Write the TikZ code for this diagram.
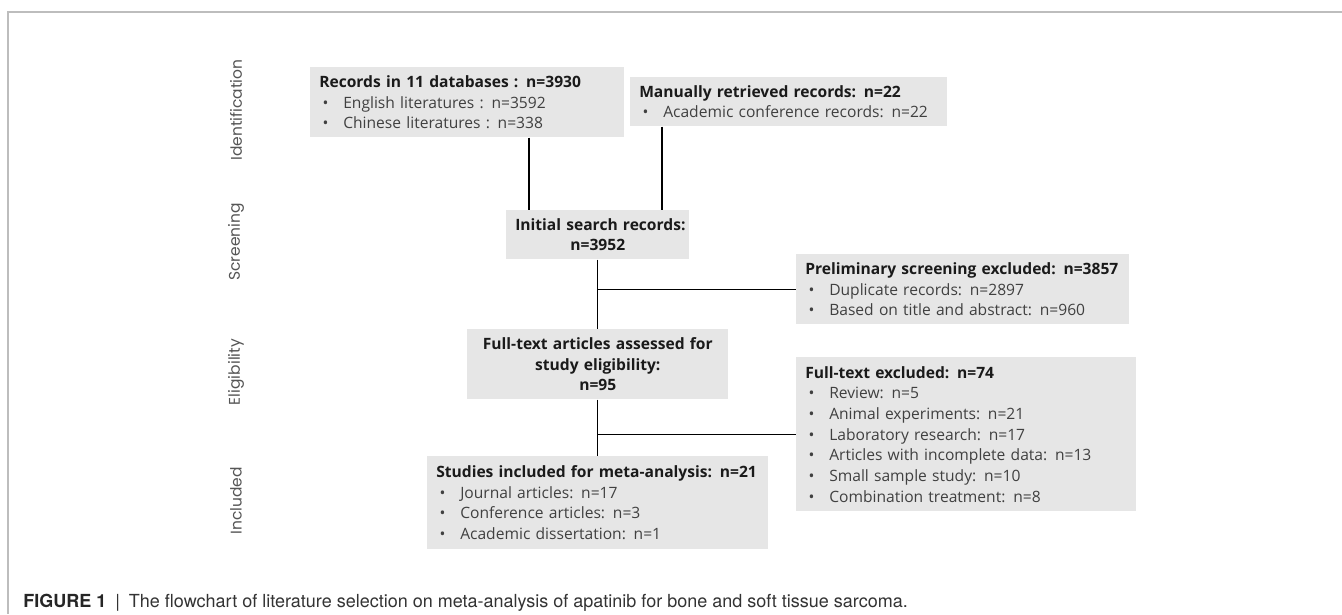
\documentclass[tikz,border=0pt]{standalone}
\usepackage{fontspec}
\setmainfont{Open Sans}
\newfontfamily\phasefont{Poppins}
\newfontfamily\capfont{TeX Gyre Heros}
\usepackage{tikz}
\usetikzlibrary{positioning}
\definecolor{boxgray}{HTML}{E6E6E6}
\definecolor{titleink}{HTML}{1A1A1A}
\definecolor{itemink}{HTML}{404040}
\definecolor{phaseink}{HTML}{555555}
\definecolor{capink}{HTML}{333333}
\definecolor{framegray}{HTML}{BDBDBD}
\newcommand{\bitem}[1]{\\\hspace*{2.5pt}\makebox[15.5pt][l]{\textbullet}\mbox{#1}}
\newcommand{\hd}[1]{\mbox{\bfseries\color{titleink}#1}}

\begin{document}
\begin{tikzpicture}[x=0.75pt,y=-0.75pt,
    stage/.style={fill=boxgray,anchor=north west,align=left,inner xsep=6.75pt,inner ysep=0pt,
      font=\fontsize{11.7}{15.5}\selectfont,text=itemink},
    midstage/.style={stage,align=center},
    phase/.style={rotate=90,font=\phasefont\fontsize{11.6}{14}\selectfont,text=phaseink},
    link/.style={black,line width=1pt}]
    \useasboundingbox (0,0) rectangle (1342,614);
    \draw [framegray,line width=1.1pt] (1342,12) -| (8,614);

    \node[phase] (pid) at (236,110) {Identification};
    \node[phase] (psc) at (236,242) {Screening};
    \node[phase] (pel) at (236,372) {Eligibility};
    \node[phase] (pin) at (236,501) {Included};

    \node[stage,text width=222pt,minimum height=52.5pt] (rec) at (310,67)
      {\hd{Records in 11 databases : n=3930}\bitem{English literatures : n=3592}\bitem{Chinese literatures : n=338}};
    \node[stage,text width=224.25pt,minimum height=36.75pt] (man) at (630,77)
      {\hd{Manually retrieved records: n=22}\bitem{Academic conference records: n=22}};
    \node[midstage,text width=123.75pt,minimum height=36.75pt] (init) at (506,210)
      {\hd{Initial search records:}\\\hd{n=3952}};
    \node[stage,text width=236.25pt,minimum height=52.5pt] (pre) at (796,254)
      {\hd{Preliminary screening excluded: n=3857}\bitem{Duplicate records: n=2897}\bitem{Based on title and abstract: n=960}};
    \node[midstage,text width=182.25pt,minimum height=52.5pt] (full) at (467,329)
      {\hd{Full-text articles assessed for}\\\hd{study eligibility:}\\\hd{n=95}};
    \node[stage,text width=241.5pt,minimum height=115.5pt] (ftx) at (796,357)
      {\hd{Full-text excluded: n=74}\bitem{Review: n=5}\bitem{Animal experiments: n=21}\bitem{Laboratory research: n=17}\bitem{Articles with incomplete data: n=13}\bitem{Small sample study: n=10}\bitem{Combination treatment: n=8}};
    \node[stage,text width=242.25pt,minimum height=69.75pt] (incl) at (427,456)
      {\hd{Studies included for meta-analysis: n=21}\bitem{Journal articles: n=17}\bitem{Conference articles: n=3}\bitem{Academic dissertation: n=1}};

    \coordinate (xa) at (529,0);
    \coordinate (xb) at (662,0);
    \draw [link] (rec.south -| xa) -- (init.north -| xa);
    \draw [link] (man.south -| xb) -- (init.north -| xb);
    \draw [link] (init.south) -- (full.north);
    \draw [link] (init.south |- pre.west) -- (pre.west);
    \draw [link] (full.south) -- (incl.north);
    \draw [link] (full.south |- ftx.west) -- (ftx.west);

    \node[anchor=base west,inner sep=0pt,font=\capfont\fontsize{13.5}{16}\selectfont,text=capink] (cap) at (23,607)
      {{\bfseries\color{black!85}FIGURE 1}\enspace|\enspace The flowchart of literature selection on meta-analysis of apatinib for bone and soft tissue sarcoma.};
\end{tikzpicture}
\end{document}
